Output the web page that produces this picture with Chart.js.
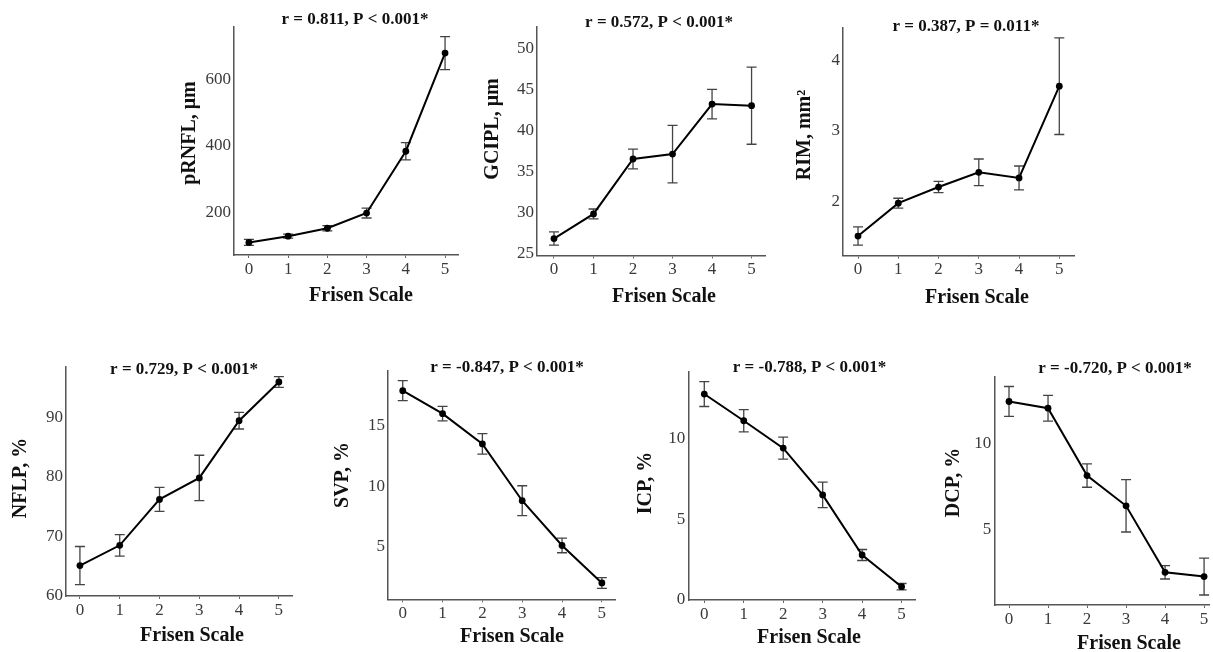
<!DOCTYPE html>
<html>
<head>
<meta charset="utf-8">
<title>Frisen Scale correlations</title>
<script src="https://cdn.jsdelivr.net/npm/chart.js@4.4.1/dist/chart.umd.min.js"></script>
<style>
  html, body { margin: 0; padding: 0; background: #fff; }
  body { width: 1213px; height: 652px; position: relative; overflow: hidden; }
  canvas { position: absolute; }
</style>
</head>
<body>
<canvas id="c0"></canvas>
<canvas id="c1"></canvas>
<canvas id="c2"></canvas>
<canvas id="c3"></canvas>
<canvas id="c4"></canvas>
<canvas id="c5"></canvas>
<canvas id="c6"></canvas>
<script>
// ── Data (mean ± error per Frisen grade) ──
const frisenGrades = [0, 1, 2, 3, 4, 5];

const prnflMean = [108, 127, 151, 197, 384, 681];
const prnflErr  = [9, 6, 8, 15, 26, 50];
const prnflTicks = [200, 400, 600];

const gciplMean = [26.8, 29.8, 36.5, 37.1, 43.2, 43.0];
const gciplErr  = [0.8, 0.6, 1.2, 3.5, 1.8, 4.7];
const gciplTicks = [25, 30, 35, 40, 45, 50];

const rimMean = [1.50, 1.97, 2.20, 2.41, 2.33, 3.64];
const rimErr  = [0.13, 0.07, 0.08, 0.19, 0.17, 0.69];
const rimTicks = [2, 3, 4];

const nflpMean = [65.1, 68.5, 76.2, 79.8, 89.4, 95.9];
const nflpErr  = [3.2, 1.8, 2.0, 3.8, 1.4, 0.9];
const nflpTicks = [60, 70, 80, 90];

const svpMean = [17.9, 16.0, 13.5, 8.8, 5.1, 2.0];
const svpErr  = [0.83, 0.6, 0.85, 1.24, 0.6, 0.44];
const svpTicks = [5, 10, 15];

const icpMean = [12.72, 11.07, 9.38, 6.49, 2.78, 0.82];
const icpErr  = [0.77, 0.69, 0.68, 0.79, 0.34, 0.2];
const icpTicks = [0, 5, 10];

const dcpMean = [12.46, 12.07, 8.16, 6.4, 2.54, 2.29];
const dcpErr  = [0.87, 0.75, 0.68, 1.52, 0.39, 1.07];
const dcpTicks = [5, 10];

// ── Panel layout (page px) ──
const panels = [
  { title: 'r = 0.811, P < 0.001*', yLabel: 'pRNFL, μm', mean: prnflMean, err: prnflErr, ticks: prnflTicks,
    box: [170, 0, 300, 320], area: [234, 27, 458, 255], xr: [-0.38, 5.33], yr: [70, 760],
    titleAt: [355, 20], yLabAt: [190, 133], xLabAt: [361, 296] },
  { title: 'r = 0.572, P < 0.001*', yLabel: 'GCIPL, μm', mean: gciplMean, err: gciplErr, ticks: gciplTicks,
    box: [470, 0, 305, 320], area: [537, 27, 765, 255.5], xr: [-0.43, 5.34], yr: [24.73, 52.6],
    titleAt: [659, 23], yLabAt: [493, 129], xLabAt: [664, 297] },
  { title: 'r = 0.387, P = 0.011*', yLabel: 'RIM, mm²', mean: rimMean, err: rimErr, ticks: rimTicks,
    box: [775, 0, 310, 320], area: [843, 28, 1074, 255.7], xr: [-0.373, 5.365], yr: [1.22, 4.47],
    titleAt: [966, 27], yLabAt: [805, 135], xLabAt: [977, 298] },
  { title: 'r = 0.729, P < 0.001*', yLabel: 'NFLP, %', mean: nflpMean, err: nflpErr, ticks: nflpTicks,
    box: [0, 330, 305, 322], area: [66, 367, 292, 596], xr: [-0.35, 5.33], yr: [60, 98.4],
    titleAt: [184, 370], yLabAt: [21, 478], xLabAt: [192, 635.5] },
  { title: 'r = -0.847, P < 0.001*', yLabel: 'SVP, %', mean: svpMean, err: svpErr, ticks: svpTicks,
    box: [310, 330, 310, 322], area: [388, 370.7, 615, 599.3], xr: [-0.37, 5.33], yr: [0.65, 19.55],
    titleAt: [507, 368], yLabAt: [342.5, 475], xLabAt: [512, 637] },
  { title: 'r = -0.788, P < 0.001*', yLabel: 'ICP, %', mean: icpMean, err: icpErr, ticks: icpTicks,
    box: [620, 330, 300, 322], area: [688.3, 371.7, 915, 600], xr: [-0.405, 5.34], yr: [0, 14.1],
    titleAt: [809.5, 368], yLabAt: [645.5, 483], xLabAt: [809, 638] },
  { title: 'r = -0.720, P < 0.001*', yLabel: 'DCP, %', mean: dcpMean, err: dcpErr, ticks: dcpTicks,
    box: [920, 330, 293, 322], area: [994.3, 376.7, 1213, 605], xr: [-0.377, 5.126], yr: [0.64, 13.9],
    titleAt: [1115, 369], yLabAt: [954, 482.5], xLabAt: [1129, 644] }
];

const SERIF = '"Liberation Serif", "Times New Roman", serif';
const Y_W = 40;   // fixed y-axis box width
const X_H = 30;   // fixed x-axis box height

Chart.defaults.font.family = SERIF;

// ── Error bars, drawn under the line ──
const errorBars = {
  id: 'errorBars',
  beforeDatasetsDraw(chart, args, opts) {
    const { ctx, scales: { x, y } } = chart;
    const pts = chart.data.datasets[0].data;
    ctx.save();
    ctx.strokeStyle = '#444';
    ctx.lineWidth = 1.3;
    pts.forEach((pt, i) => {
      const e = opts.errors[i];
      const px = x.getPixelForValue(pt.x);
      const top = y.getPixelForValue(pt.y + e);
      const bot = y.getPixelForValue(pt.y - e);
      ctx.beginPath();
      ctx.moveTo(px, top); ctx.lineTo(px, bot);
      ctx.moveTo(px - 5, top); ctx.lineTo(px + 5, top);
      ctx.moveTo(px - 5, bot); ctx.lineTo(px + 5, bot);
      ctx.stroke();
    });
    ctx.restore();
  }
};

// ── Panel title + axis titles ──
const panelText = {
  id: 'panelText',
  afterDraw(chart, args, opts) {
    const { ctx } = chart;
    const [ox, oy] = opts.origin;
    ctx.save();
    ctx.fillStyle = '#111';
    ctx.textAlign = 'center';
    ctx.textBaseline = 'middle';
    ctx.font = 'bold 17px ' + SERIF;
    ctx.fillText(opts.title, opts.titleAt[0] - ox, opts.titleAt[1] - oy);
    ctx.font = 'bold 20px ' + SERIF;
    ctx.fillText('Frisen Scale', opts.xLabAt[0] - ox, opts.xLabAt[1] - oy);
    ctx.translate(opts.yLabAt[0] - ox, opts.yLabAt[1] - oy);
    ctx.rotate(-Math.PI / 2);
    ctx.fillText(opts.yLabel, 0, 0);
    ctx.restore();
  }
};

panels.forEach((p, i) => {
  const [bx, by, bw, bh] = p.box;
  const [L, T, R, B] = p.area;
  const canvas = document.getElementById('c' + i);
  canvas.width = bw;
  canvas.height = bh;
  canvas.style.left = bx + 'px';
  canvas.style.top = by + 'px';

  new Chart(canvas, {
    type: 'line',
    data: {
      datasets: [{
        data: frisenGrades.map((g, k) => ({ x: g, y: p.mean[k] })),
        borderColor: '#000',
        borderWidth: 2,
        backgroundColor: '#000',
        pointBackgroundColor: '#000',
        pointBorderWidth: 0,
        pointRadius: 3.4,
        tension: 0,
        fill: false
      }]
    },
    options: {
      responsive: false,
      animation: false,
      events: [],
      layout: {
        padding: { left: L - bx - Y_W, top: T - by, right: bx + bw - R, bottom: by + bh - B - X_H }
      },
      scales: {
        x: {
          type: 'linear',
          min: p.xr[0],
          max: p.xr[1],
          bounds: 'data',
          afterFit(s) { s.height = X_H; s.paddingLeft = 0; s.paddingRight = 0; },
          afterBuildTicks(s) { s.ticks = frisenGrades.map(v => ({ value: v })); },
          grid: { display: true, drawOnChartArea: false, drawTicks: true, tickLength: 3, color: '#666', lineWidth: 1 },
          border: { display: true, color: '#555', width: 1.5 },
          ticks: { color: '#3a3a3a', font: { size: 17 }, padding: 1, maxRotation: 0 }
        },
        y: {
          type: 'linear',
          min: p.yr[0],
          max: p.yr[1],
          bounds: 'data',
          afterFit(s) { s.width = Y_W; s.paddingTop = 0; s.paddingBottom = 0; },
          afterBuildTicks(s) { s.ticks = p.ticks.map(v => ({ value: v })); },
          grid: { display: false, drawTicks: false },
          border: { display: true, color: '#555', width: 1.5 },
          ticks: { color: '#3a3a3a', font: { size: 17 }, padding: 3 }
        }
      },
      plugins: {
        legend: { display: false },
        tooltip: { enabled: false },
        errorBars: { errors: p.err },
        panelText: { origin: [bx, by], title: p.title, yLabel: p.yLabel,
                     titleAt: p.titleAt, yLabAt: p.yLabAt, xLabAt: p.xLabAt }
      }
    },
    plugins: [errorBars, panelText]
  });
});
</script>
</body>
</html>
